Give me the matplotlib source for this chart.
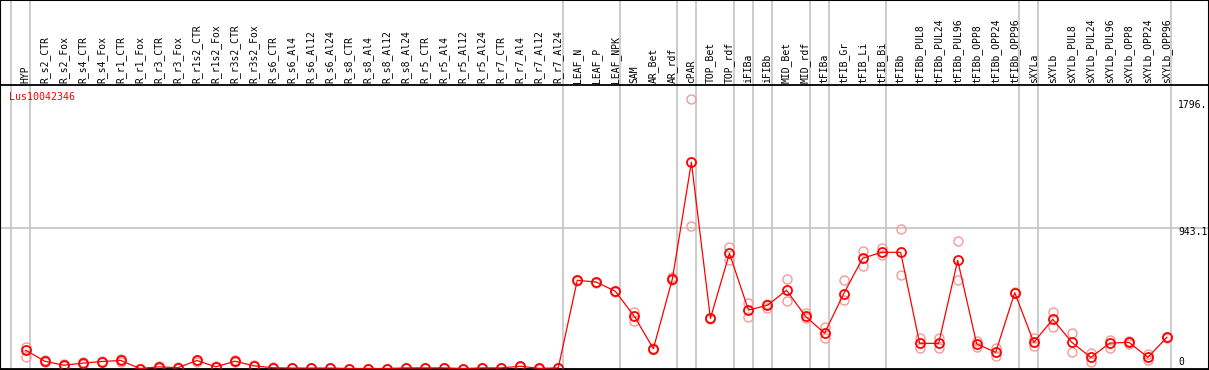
import matplotlib
matplotlib.use('Agg')
import matplotlib.pyplot as plt
from matplotlib.patches import Rectangle

# ---------------- data ----------------
gene = "Lus10042346"

labels = ["HYP",
          "R_s2_CTR", "R_s2_Fox", "R_s4_CTR", "R_s4_Fox", "R_r1_CTR", "R_r1_Fox",
          "R_r3_CTR", "R_r3_Fox", "R_r1s2_CTR", "R_r1s2_Fox", "R_r3s2_CTR", "R_r3s2_Fox",
          "R_s6_CTR", "R_s6_Al4", "R_s6_Al12", "R_s6_Al24",
          "R_s8_CTR", "R_s8_Al4", "R_s8_Al12", "R_s8_Al24",
          "R_r5_CTR", "R_r5_Al4", "R_r5_Al12", "R_r5_Al24",
          "R_r7_CTR", "R_r7_Al4", "R_r7_Al12", "R_r7_Al24",
          "LEAF_N", "LEAF_P", "LEAF_NPK", "SAM", "AR_Bet", "AR_rdf", "cPAR",
          "TOP_Bet", "TOP_rdf", "iFIBa", "iFIBb", "MID_Bet", "MID_rdf",
          "tFIBa", "tFIB_Gr", "tFIB_Li", "tFIB_Bi", "tFIBb",
          "tFIBb_PUL8", "tFIBb_PUL24", "tFIBb_PUL96", "tFIBb_OPP8", "tFIBb_OPP24", "tFIBb_OPP96",
          "sXYLa", "sXYLb",
          "sXYLb_PUL8", "sXYLb_PUL24", "sXYLb_PUL96", "sXYLb_OPP8", "sXYLb_OPP24", "sXYLb_OPP96"]

means = [123,
         49, 22, 36, 47, 54, 0, 11, 5, 54, 11, 49, 18,
         5, 3, 3, 3, 0, 0, 0, 4, 4, 4, 0, 4, 4, 15, 1, 4,
         593, 581, 519, 351, 133, 602, 1386,
         337, 774, 393, 425, 526, 351,
         237, 501, 741, 781, 781,
         169, 169, 727, 165, 109, 510,
         176, 331,
         176, 75, 171, 176, 75, 210]

rep_hi = [145,
          56, 28, 42, 53, 62, 0, 16, 9, 60, 15, 56, 22,
          8, 5, 5, 5, 0, 0, 0, 6, 6, 6, 0, 6, 6, 19, 2, 6,
          596, 584, 522, 382, 138, 612, 1810,
          340, 819, 442, 434, 604, 371,
          281, 595, 788, 808, 941,
          203, 203, 857, 185, 140, 515,
          203, 380,
          237, 106, 192, 185, 95, 214]

rep_lo = [75,
          42, 16, 30, 41, 44, 0, 6, 1, 46, 7, 41, 14,
          2, 1, 1, 1, 0, 0, 0, 2, 2, 2, 0, 2, 2, 11, 0, 2,
          590, 578, 516, 321, 128, 592, 956,
          334, 729, 344, 405, 452, 337,
          203, 460, 689, 763, 629,
          140, 140, 595, 147, 84, 505,
          153, 279,
          113, 46, 140, 168, 57, 206]

separators_after = [-1, 0, 28, 31, 34, 35, 37, 38, 39, 41, 42, 45, 52, 53, 60]
grid_value = 943.1
ytick_vals = [1796, 943.1, 0]
ytick_text = ["1796.", "943.1", "0"]

# ---------------- layout ----------------
W, H = 1209, 370
fig = plt.figure(figsize=(W / 100, H / 100), dpi=100)
ax_bot_px, ax_top_px = 369.0, 84.5
ax = fig.add_axes([0, (H - ax_bot_px) / H, 1, (ax_bot_px - ax_top_px) / H])

x0px, dx = 25.7, 19.02
ax.set_xlim(-x0px / dx, (W - x0px) / dx)
y0px, s = 368.5, 0.14876
ax.set_ylim(-(ax_bot_px - y0px) / s, (y0px - ax_top_px) / s)
ax.set_xticks([])
ax.set_yticks([])
for sp in ax.spines.values():
    sp.set_color('black')
    sp.set_linewidth(1.3)

mono = 'DejaVu Sans Mono'
grey = '#c4c4c4'
xs = list(range(len(labels)))

# separators
top_frac = ax_bot_px / (ax_bot_px - ax_top_px)
for i in separators_after:
    ax.plot([i + 0.237, i + 0.237], [0, top_frac], color=grey, lw=1.2,
            transform=ax.get_xaxis_transform(), clip_on=False, zorder=1)

ax.axhline(grid_value, color=grey, lw=1.2, zorder=1)

# header labels
off = 1.5 / (ax_bot_px - ax_top_px)
for i, lab in enumerate(labels):
    ax.text(i, 1 + off, lab, rotation=90, ha='center', va='bottom',
            fontsize=7, family=mono, transform=ax.get_xaxis_transform(),
            clip_on=False)

# replicates
rep_col = '#f59a9a'
ax.plot(xs, rep_hi, ls='none', marker='o', ms=6.5, mfc='none', mec=rep_col, mew=1.0, zorder=2)
ax.plot(xs, rep_lo, ls='none', marker='o', ms=6.5, mfc='none', mec=rep_col, mew=1.0, zorder=2)

# means
ax.plot(xs, means, color='red', lw=0.9, zorder=3)
ax.plot(xs, means, ls='none', marker='o', ms=6.5, mfc='none', mec='red', mew=1.3, zorder=4)

# title
ax.text(-x0px / dx + 9 / dx, (y0px - 97.3) / s, gene, color='red', fontsize=7.2,
        family=mono, ha='left', va='center')

# right value labels
xr = (1178 - x0px) / dx
ax.text(xr, ytick_vals[0] + 8, ytick_text[0], fontsize=7, family=mono, ha='left', va='top')
ax.text(xr, ytick_vals[1] + 8, ytick_text[1], fontsize=7, family=mono, ha='left', va='top')
ax.text(xr, ytick_vals[2] + 46, ytick_text[2], fontsize=7, family=mono, ha='left', va='center')

# outer frame
fig.patches.append(Rectangle((0, 0), 1, 1, transform=fig.transFigure, fill=False,
                             edgecolor='black', lw=1.5))

fig.savefig('out.png', dpi=100)
